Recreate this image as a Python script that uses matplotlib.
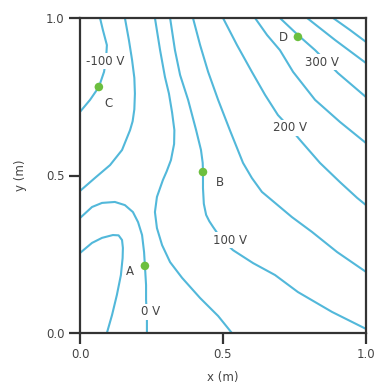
import matplotlib
matplotlib.use("Agg")
import matplotlib.pyplot as plt

# equipotential lines, (x, y) in metres
iso_minus100 = [(0.070, 1.0), (0.080, 0.962), (0.094, 0.914), (0.091, 0.867), (0.084, 0.829),
                (0.066, 0.781), (0.035, 0.740), (0.0, 0.702)]
iso_left = [(0.157, 1.0), (0.171, 0.930), (0.182, 0.867), (0.190, 0.810), (0.192, 0.760),
            (0.190, 0.710), (0.184, 0.672), (0.175, 0.644), (0.147, 0.581), (0.105, 0.533),
            (0.052, 0.492), (0.0, 0.451)]
iso_mid = [(0.262, 1.0), (0.280, 0.898), (0.297, 0.813), (0.311, 0.760), (0.322, 0.700),
           (0.330, 0.644), (0.329, 0.600), (0.318, 0.549), (0.303, 0.513), (0.290, 0.486),
           (0.269, 0.432), (0.262, 0.384), (0.269, 0.333), (0.287, 0.279), (0.315, 0.225),
           (0.357, 0.175), (0.420, 0.111), (0.483, 0.054), (0.531, 0.0)]
iso_100 = [(0.315, 1.0), (0.332, 0.898), (0.350, 0.819), (0.378, 0.740), (0.406, 0.644),
           (0.423, 0.581), (0.429, 0.540), (0.430, 0.511), (0.430, 0.460), (0.433, 0.410),
           (0.441, 0.375), (0.452, 0.355), (0.465, 0.337), (0.497, 0.295), (0.535, 0.263),
           (0.605, 0.222), (0.682, 0.184), (0.762, 0.130), (0.881, 0.067), (1.0, 0.013)]
iso_150 = [(0.395, 1.0), (0.420, 0.914), (0.448, 0.829), (0.483, 0.740), (0.524, 0.644),
           (0.570, 0.540), (0.601, 0.492), (0.636, 0.448), (0.682, 0.413), (0.741, 0.368),
           (0.811, 0.321), (0.899, 0.257), (1.0, 0.194)]
iso_200 = [(0.500, 1.0), (0.549, 0.914), (0.601, 0.829), (0.647, 0.756), (0.692, 0.692),
           (0.734, 0.651), (0.769, 0.613), (0.839, 0.540), (0.909, 0.479), (0.969, 0.429),
           (1.0, 0.406)]
iso_250 = [(0.612, 1.0), (0.654, 0.946), (0.699, 0.898), (0.745, 0.829), (0.822, 0.740),
           (0.909, 0.670), (1.0, 0.603)]
iso_300 = [(0.699, 1.0), (0.762, 0.946), (0.822, 0.898), (0.902, 0.825), (0.951, 0.787),
           (1.0, 0.749)]
iso_350 = [(0.794, 1.0), (0.892, 0.930), (1.0, 0.857)]
iso_400 = [(0.885, 1.0), (0.944, 0.962), (1.0, 0.924)]
iso_zero = [(0.0, 0.365), (0.042, 0.400), (0.077, 0.413), (0.122, 0.416), (0.157, 0.406),
            (0.185, 0.384), (0.203, 0.352), (0.217, 0.311), (0.224, 0.257), (0.227, 0.213),
            (0.231, 0.152), (0.231, 0.105), (0.234, 0.048), (0.234, 0.0)]
iso_corner = [(0.0, 0.254), (0.042, 0.286), (0.077, 0.302), (0.115, 0.311), (0.135, 0.310),
              (0.147, 0.295), (0.150, 0.270), (0.149, 0.238), (0.143, 0.184), (0.129, 0.121),
              (0.112, 0.057), (0.094, 0.0)]

lines = [iso_minus100, iso_left, iso_mid, iso_100, iso_150, iso_200, iso_250,
         iso_300, iso_350, iso_400, iso_zero, iso_corner]

# labelled lines: text and where it sits
volt_text = ["-100 V", "0 V", "100 V", "200 V", "300 V"]
volt_x = [0.087, 0.245, 0.524, 0.734, 0.846]
volt_y = [0.863, 0.067, 0.295, 0.651, 0.860]

# points A-D
pt_names = ["A", "B", "C", "D"]
pt_x = [0.227, 0.430, 0.066, 0.762]
pt_y = [0.213, 0.511, 0.781, 0.940]
name_x = [0.175, 0.490, 0.098, 0.710]
name_y = [0.194, 0.479, 0.727, 0.937]

line_color = "#52b8da"
text_color = "#444444"

fig = plt.figure(figsize=(3.8, 3.83), dpi=100)
ax = fig.add_axes([80 / 380, 1 - 333 / 383, 286 / 380, 315 / 383])

for pts in lines:
    xs = [p[0] for p in pts]
    ys = [p[1] for p in pts]
    ax.plot(xs, ys, color=line_color, lw=1.5, solid_capstyle="round",
            solid_joinstyle="round", zorder=2)

for t, x, y in zip(volt_text, volt_x, volt_y):
    ax.text(x, y, t, fontsize=8.5, color=text_color, ha="center", va="center", zorder=3,
            bbox=dict(facecolor="white", edgecolor="none", pad=1.0))

ax.scatter(pt_x, pt_y, s=38, color="#6cbf3f", zorder=4, edgecolors="none")
for n, x, y in zip(pt_names, name_x, name_y):
    ax.text(x, y, n, fontsize=8.5, color=text_color, ha="center", va="center", zorder=3)

ax.set_xlim(0, 1)
ax.set_ylim(0, 1)
ax.set_xticks([0.0, 0.5, 1.0])
ax.set_yticks([0.0, 0.5, 1.0])
ax.set_xticklabels(["0.0", "0.5", "1.0"])
ax.set_yticklabels(["0.0", "0.5", "1.0"])
ax.tick_params(direction="out", length=8, width=1.6, color="#333333",
               labelsize=8.5, labelcolor=text_color, pad=3,
               top=False, right=False)
for s in ax.spines.values():
    s.set_linewidth(1.6)
    s.set_color("#333333")

ax.set_xlabel("x (m)", fontsize=8.5, color=text_color, labelpad=7)
ax.set_ylabel("y (m)", fontsize=8.5, color=text_color, labelpad=14)

fig.savefig("out.png", dpi=100, facecolor="white")
